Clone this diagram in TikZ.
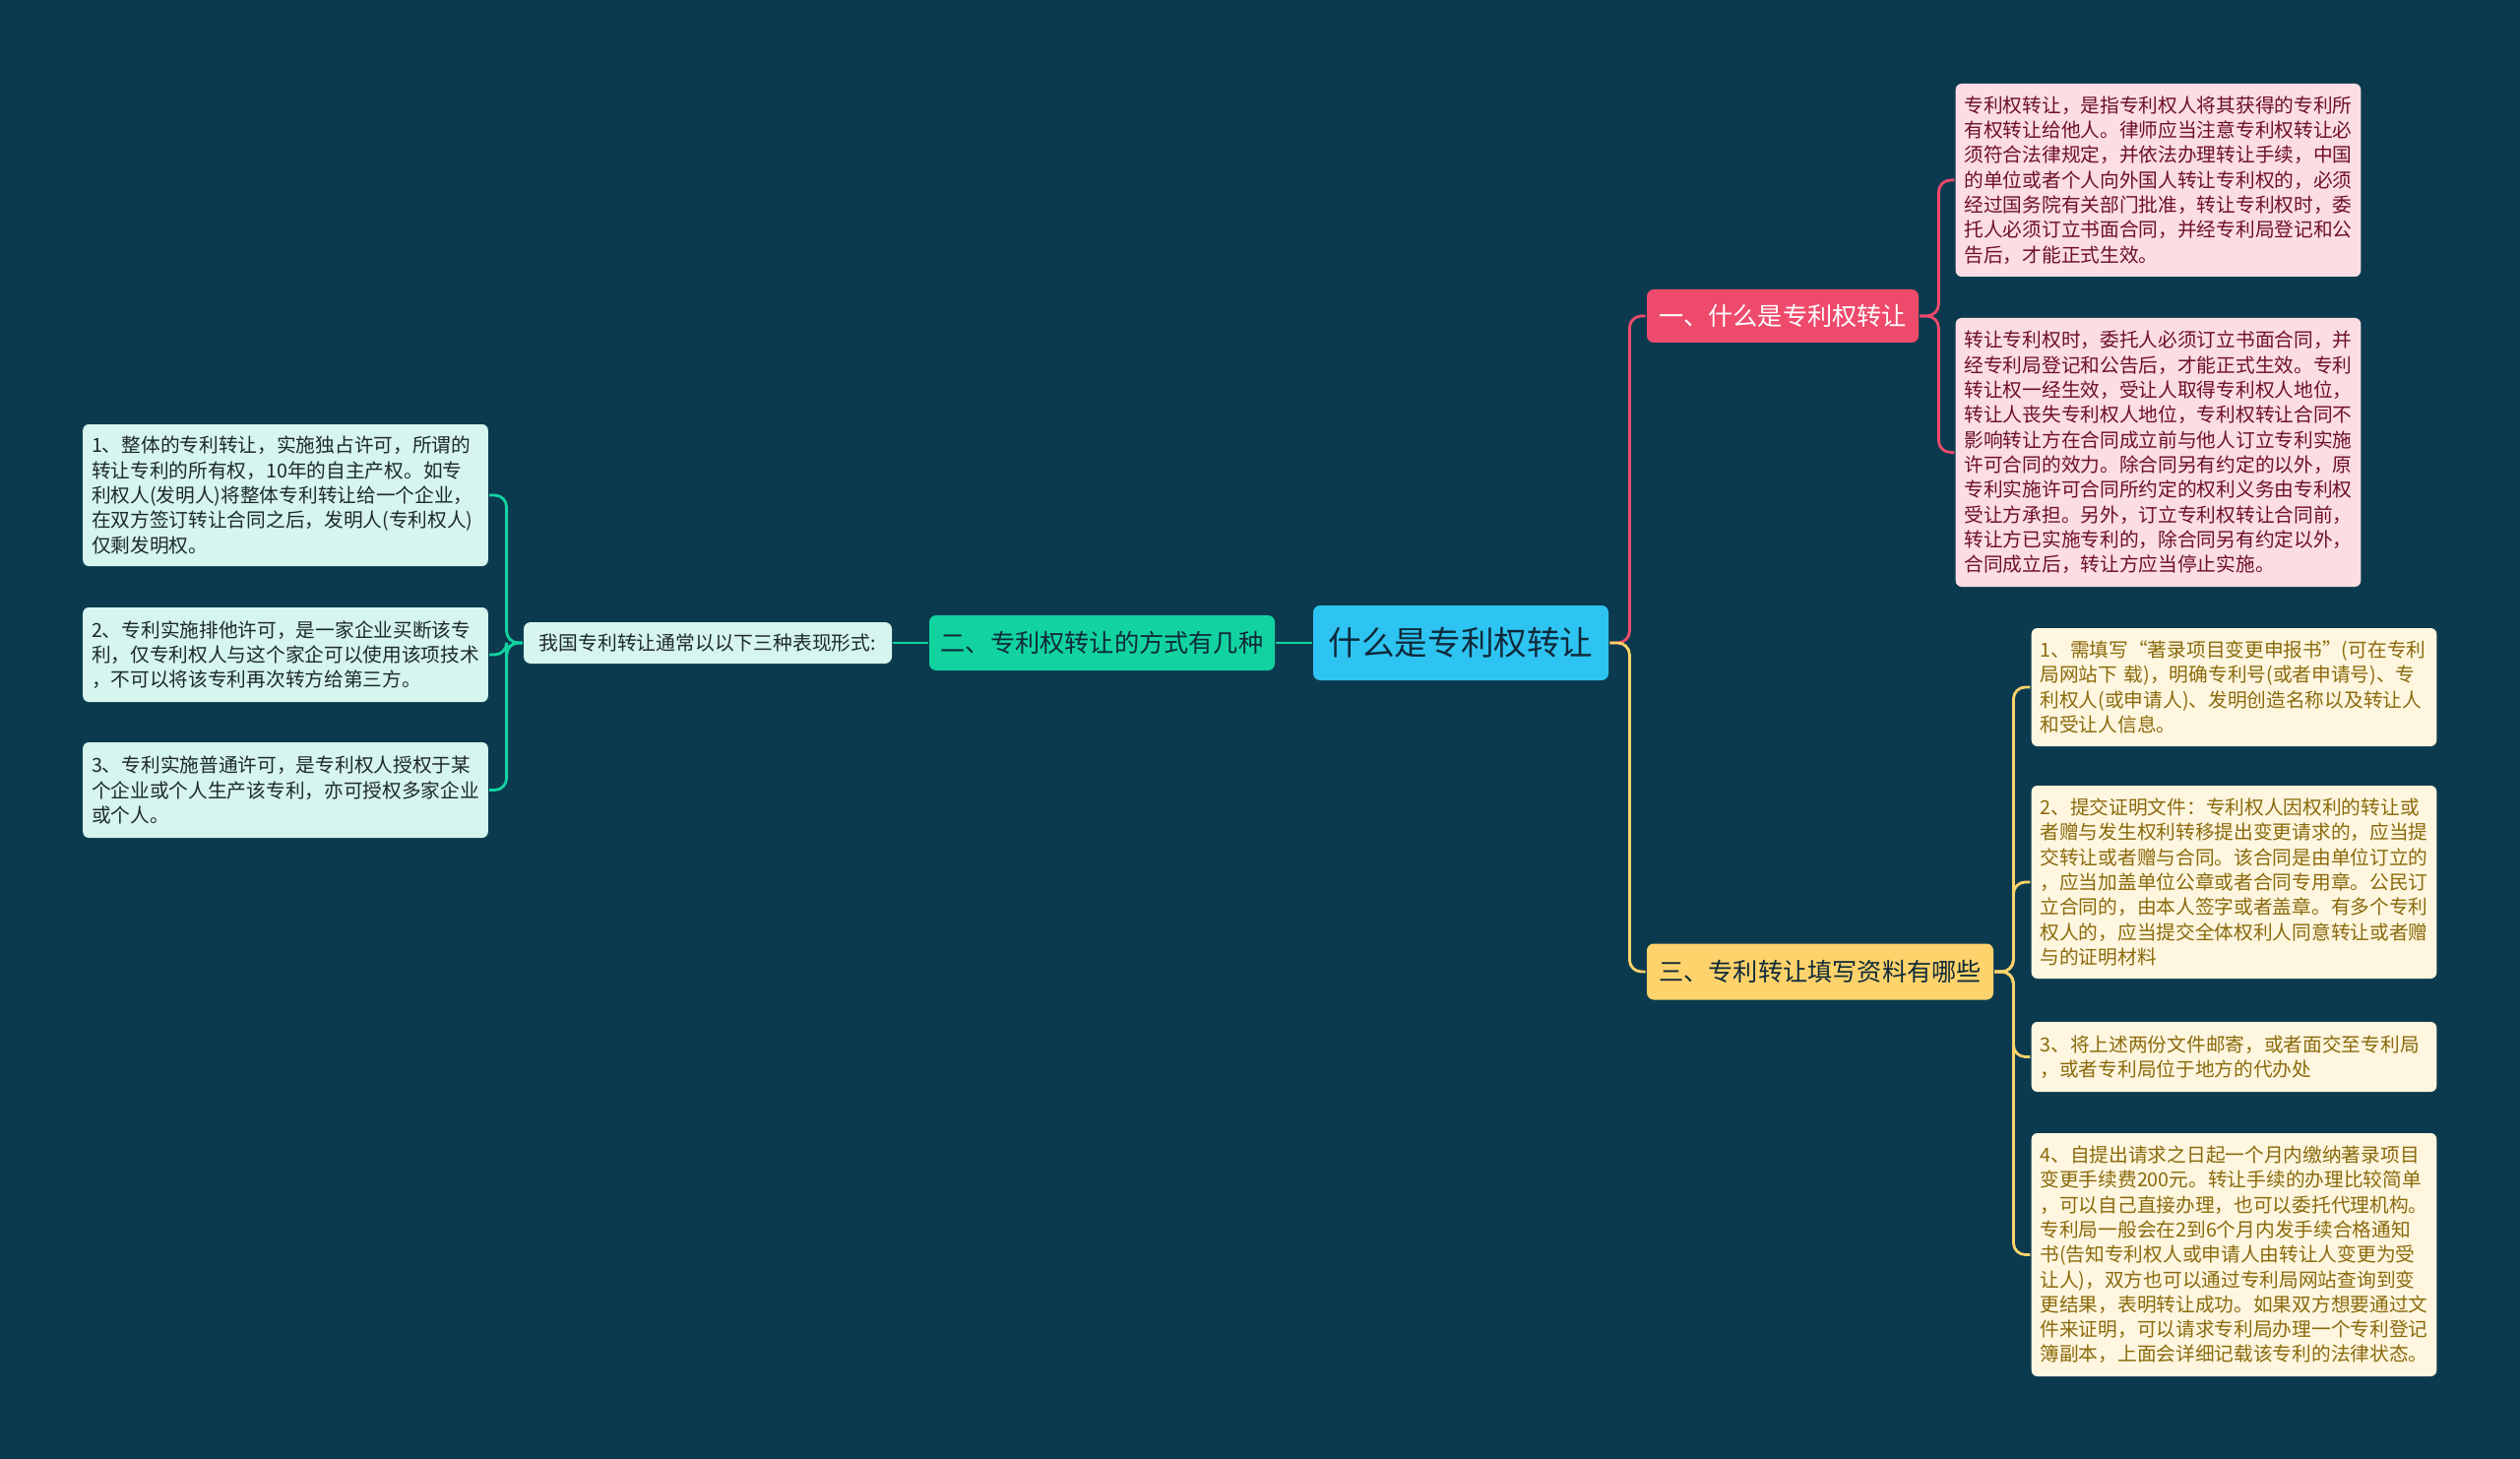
\documentclass[tikz,border=0pt]{standalone}
\usepackage{fontspec}
\setmainfont{Noto Sans CJK SC}
\definecolor{cbg}{HTML}{0B3A4E}
\definecolor{croot}{HTML}{2EC4F2}
\definecolor{cpink}{HTML}{EE4A6B}
\definecolor{cpinkl}{HTML}{FBDDE3}
\definecolor{cpinkt}{HTML}{6E0F2B}
\definecolor{cgreen}{HTML}{12D3A0}
\definecolor{cgreenl}{HTML}{D5F5EE}
\definecolor{cgreent}{HTML}{1E2A2A}
\definecolor{cyellow}{HTML}{FFD36B}
\definecolor{cyellowl}{HTML}{FFF6DF}
\definecolor{cyellowt}{HTML}{8A6A0C}
\definecolor{cdark}{HTML}{0E2A3A}
\newcommand\leaffont{\fontsize{9.85}{12.65}\selectfont}
\tikzset{
  every picture/.style={line width=1.4pt},
  box/.style={fill=#1, rounded corners=3.5pt, inner sep=0pt, align=center},
  leaf/.style={fill=#1, rounded corners=3pt, inner xsep=4.4pt, inner ysep=0pt, text width=197pt, align=left, font=\leaffont},
  link/.style={draw=#1, rounded corners=6pt},
  pleaf/.style={leaf=cpinkl, text=cpinkt},
  yleaf/.style={leaf=cyellowl, text=cyellowt},
  gleaf/.style={leaf=cgreenl, text=cgreent},
}

\begin{document}
\begin{tikzpicture}[x=0.5pt, y=-0.5pt]
  \fill[cbg] (0,0) rectangle (2560,1482);
  \useasboundingbox (0,0) rectangle (2560,1482);
  \node[box=croot, text=cdark, minimum width=150pt, minimum height=38pt, font=\fontsize{16.8}{20}\selectfont] (root) at (1484,653) {什么是专利权转让};
  \node[box=cpink, text=white, minimum width=138pt, minimum height=27pt, font=\fontsize{12.6}{15}\selectfont] (b1) at (1811,321) {一、什么是专利权转让};
  \node[box=cgreen, text=cdark, minimum width=175.5pt, minimum height=28pt, font=\fontsize{12.6}{15}\selectfont] (b2) at (1119.5,653) {二、专利权转让的方式有几种};
  \node[box=cyellow, text=cdark, minimum width=176pt, minimum height=28.5pt, font=\fontsize{12.6}{15}\selectfont] (b3) at (1849,987) {三、专利转让填写资料有哪些};
  \node[box=cgreenl, text=cgreent, minimum width=187pt, minimum height=21pt, font=\fontsize{9.9}{12}\selectfont] (mid) at (719,653) {我国专利转让通常以以下三种表现形式:};

  \node[pleaf, minimum height=98pt] (p1) at (2192.5,183) {专利权转让，是指专利权人将其获得的专利所\\有权转让给他人。律师应当注意专利权转让必\\须符合法律规定，并依法办理转让手续，中国\\的单位或者个人向外国人转让专利权的，必须\\经过国务院有关部门批准，转让专利权时，委\\托人必须订立书面合同，并经专利局登记和公\\告后，才能正式生效。};
  \node[pleaf, minimum height=136.5pt] (p2) at (2192.5,459.5) {转让专利权时，委托人必须订立书面合同，并\\经专利局登记和公告后，才能正式生效。专利\\转让权一经生效，受让人取得专利权人地位，\\转让人丧失专利权人地位，专利权转让合同不\\影响转让方在合同成立前与他人订立专利实施\\许可合同的效力。除合同另有约定的以外，原\\专利实施许可合同所约定的权利义务由专利权\\受让方承担。另外，订立专利权转让合同前，\\转让方已实施专利的，除合同另有约定以外，\\合同成立后，转让方应当停止实施。};

  \node[yleaf, minimum height=60pt] (y1) at (2269.5,698) {1、需填写“著录项目变更申报书”(可在专利\\局网站下 载)，明确专利号(或者申请号)、专\\利权人(或申请人)、发明创造名称以及转让人\\和受让人信息。};
  \node[yleaf, minimum height=98pt] (y2) at (2269.5,896) {2、提交证明文件：专利权人因权利的转让或\\者赠与发生权利转移提出变更请求的，应当提\\交转让或者赠与合同。该合同是由单位订立的\\，应当加盖单位公章或者合同专用章。公民订\\立合同的，由本人签字或者盖章。有多个专利\\权人的，应当提交全体权利人同意转让或者赠\\与的证明材料};
  \node[yleaf, minimum height=35.5pt] (y3) at (2269.5,1073.5) {3、将上述两份文件邮寄，或者面交至专利局\\，或者专利局位于地方的代办处};
  \node[yleaf, minimum height=123.5pt] (y4) at (2269.5,1274.5) {4、自提出请求之日起一个月内缴纳著录项目\\变更手续费200元。转让手续的办理比较简单\\，可以自己直接办理，也可以委托代理机构。\\专利局一般会在2到6个月内发手续合格通知\\书(告知专利权人或申请人由转让人变更为受\\让人)，双方也可以通过专利局网站查询到变\\更结果，表明转让成功。如果双方想要通过文\\件来证明，可以请求专利局办理一个专利登记\\簿副本，上面会详细记载该专利的法律状态。};

  \node[gleaf, minimum height=72pt] (g1) at (290,503) {1、整体的专利转让，实施独占许可，所谓的\\转让专利的所有权，10年的自主产权。如专\\利权人(发明人)将整体专利转让给一个企业，\\在双方签订转让合同之后，发明人(专利权人)\\仅剩发明权。};
  \node[gleaf, minimum height=48pt] (g2) at (290,665) {2、专利实施排他许可，是一家企业买断该专\\利，仅专利权人与这个家企可以使用该项技术\\，不可以将该专利再次转方给第三方。};
  \node[gleaf, minimum height=48.5pt] (g3) at (290,802.5) {3、专利实施普通许可，是专利权人授权于某\\个企业或个人生产该专利，亦可授权多家企业\\或个人。};

  \draw[link=cpink] (root.east) -- ++(20,0) |- (b1.west);
  \draw[link=cyellow] (root.east) -- ++(20,0) |- (b3.west);
  \draw[link=cgreen] (root.west) -- (b2.east); \draw[link=cgreen] (b2.west) -- (mid.east);
  \draw[link=cpink] (b1.east) -- ++(19,0) |- (p1.west); \draw[link=cpink] (b1.east) -- ++(19,0) |- (p2.west);
  \foreach \n in {y1,y2,y3,y4} \draw[link=cyellow] (b3.east) -- ++(19,0) |- (\n.west);
  \foreach \n in {g1,g2,g3} \draw[link=cgreen] (mid.west) -- ++(-16,0) |- (\n.east);
\end{tikzpicture}
\end{document}
